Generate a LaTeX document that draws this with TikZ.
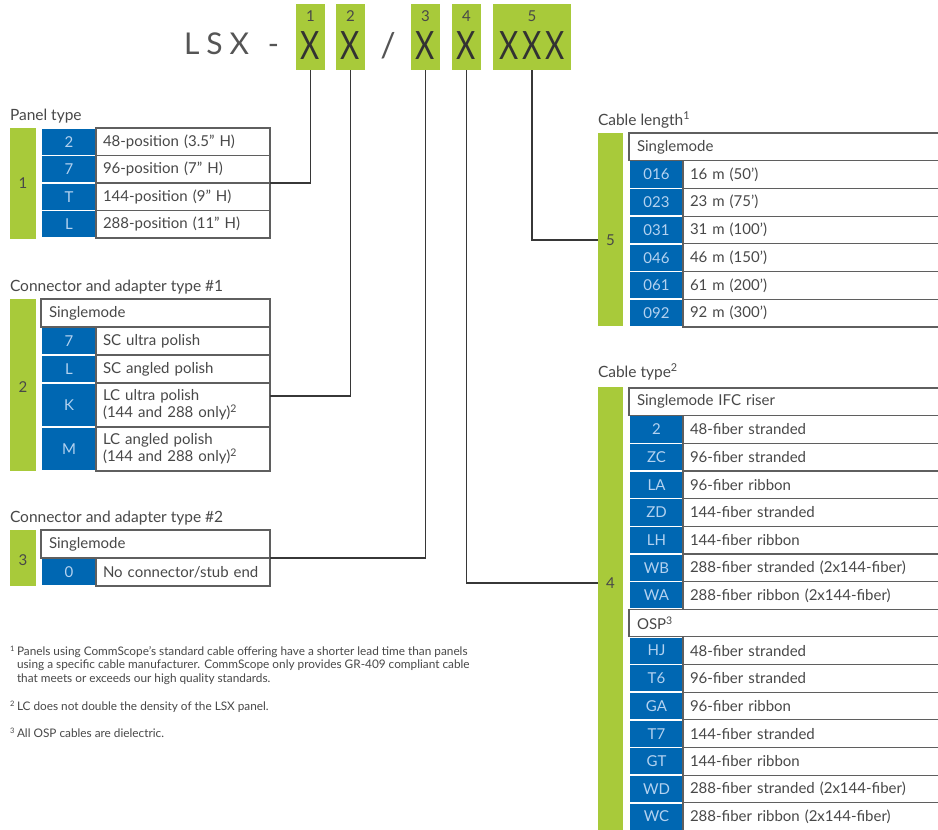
\documentclass[tikz,border=0pt]{standalone}
\usepackage{fontspec}
\setmainfont{Lato}
\usetikzlibrary{calc}
\definecolor{lsgreen}{RGB}{168,202,58}
\definecolor{lsblue}{RGB}{0,103,178}
\definecolor{lsbluetxt}{RGB}{180,210,240}
\definecolor{lstext}{RGB}{72,72,72}
\definecolor{lsborder}{RGB}{95,95,95}
\definecolor{lsline}{RGB}{55,55,55}
\definecolor{lsgray}{RGB}{85,85,85}
\definecolor{lsdark}{RGB}{50,50,50}
\newcommand\rowL[5]{%
  \node[bcell,minimum height=#3-1.5] (#1c) at (42,#2+0.75) {#4};
  \node[wcellL,minimum height=#3] (#1) at (96,#2) {#5};}
\newcommand\rowR[5]{%
  \node[bcell,minimum height=#3-1.5,minimum width=53] (#1c) at (630,#2+0.75) {#4};
  \node[wcellR,minimum height=#3] (#1) at (683,#2) {#5};}
\newcommand\narrowX{\scalebox{0.76}[1]{X}}
\begin{document}
\begin{tikzpicture}[x=1pt,y=-1pt,
  every node/.style={inner sep=0pt,outer sep=0pt},
  body/.style={font=\fontsize{15}{17}\selectfont,text=lstext},
  title/.style={font=\fontsize{15.5}{18}\selectfont,text=lstext,anchor=base west},
  gbar/.style={fill=lsgreen,anchor=north west},
  hbox/.style={fill=lsgreen,anchor=north west,minimum height=66},
  hnum/.style={font=\fontsize{15}{16}\selectfont,text=lstext},
  hx/.style={font=\fontsize{39}{39}\selectfont,text=lsdark,anchor=base},
  bcell/.style={fill=lsblue,anchor=north west,minimum width=54,text=lsbluetxt,font=\fontsize{15}{17}\selectfont},
  wcellL/.style={body,draw=lsborder,line width=1.2pt,fill=white,anchor=north west,text width=160pt,inner xsep=7pt,align=left},
  hcellL/.style={body,draw=lsborder,line width=1.2pt,fill=white,anchor=north west,text width=213pt,inner xsep=8pt,align=left},
  wcellR/.style={body,draw=lsborder,line width=1.2pt,fill=white,anchor=north west,text width=248pt,inner xsep=7pt,align=left},
  hcellR/.style={body,draw=lsborder,line width=1.2pt,fill=white,anchor=north west,text width=300pt,inner xsep=8pt,align=left},
  conn/.style={draw=lsline,line width=1.3pt},
  fn/.style={font=\fontsize{11.8}{13.5}\selectfont,text=lstext,anchor=base west},
  fnsup/.style={font=\fontsize{7.5}{8}\selectfont,text=lstext,anchor=base west}]
\useasboundingbox (0,0) rectangle (938,830);
\fill[white] (0,0) rectangle (938,830);

% ---------- header ----------
\node[font=\fontsize{30}{30}\selectfont,text=lsgray,anchor=base west] (lsx) at (184,54) {L\hspace{7pt}S\hspace{7pt}X};
\node[font=\fontsize{30}{30}\selectfont,text=lsgray,anchor=base] (dash) at (273.5,54) {-};
\node[hbox,minimum width=29] (h1) at (296,4) {};
\node[hbox,minimum width=29] (h2) at (336,4) {};
\node[font=\fontsize{34}{34}\selectfont,text=lsgray,anchor=base] (slash) at (388,57) {/};
\node[hbox,minimum width=29] (h3) at (411,4) {};
\node[hbox,minimum width=29] (h4) at (452,4) {};
\node[hbox,minimum width=78] (h5) at (493,4) {};
\node[hnum] (h1n) at (310.5,16) {1};
\node[hnum] (h2n) at (350.5,16) {2};
\node[hnum] (h3n) at (425.5,16) {3};
\node[hnum] (h4n) at (466.5,16) {4};
\node[hnum] (h5n) at (532,16) {5};
\node[hx] (h1x) at (310.5,59) {\narrowX};
\node[hx] (h2x) at (350.5,59) {\narrowX};
\node[hx] (h3x) at (425.5,59) {\narrowX};
\node[hx] (h4x) at (466.5,59) {\narrowX};
\node[hx] (h5x) at (532,59) {\narrowX\hspace{4pt}\narrowX\hspace{4pt}\narrowX};

% ---------- Panel type ----------
\node[title] (t1) at (10,120) {Panel type};
\node[gbar,minimum width=26,minimum height=110.5] (g1) at (10,128) {};
\node[body] (n1) at (23,183) {1};
\rowL{p2}{128}{27.5}{2}{48-position (3.5" H)}
\rowL{p7}{155.5}{27.5}{7}{96-position (7" H)}
\rowL{pT}{183}{27.5}{T}{144-position (9" H)}
\rowL{pL}{210.5}{27.5}{L}{288-position (11" H)}

% ---------- Connector #1 ----------
\node[title] (t2) at (10,291) {Connector and adapter type \#1};
\node[gbar,minimum width=26,minimum height=172] (g2) at (10,299) {};
\node[body] (n2) at (23,387) {2};
\node[hcellL,minimum height=28] (c1sm) at (41,299) {Singlemode};
\rowL{c7}{327}{28}{7}{SC ultra polish}
\rowL{cL}{355}{28}{L}{SC angled polish}
\rowL{cK}{383}{44}{K}{LC ultra polish\\(144 and 288 only)\textsuperscript{2}}
\rowL{cM}{427}{44}{M}{LC angled polish\\(144 and 288 only)\textsuperscript{2}}

% ---------- Connector #2 ----------
\node[title] (t3) at (10,522) {Connector and adapter type \#2};
\node[gbar,minimum width=26,minimum height=56] (g3) at (10,530) {};
\node[body] (n3) at (23,560) {3};
\node[hcellL,minimum height=28] (c2sm) at (41,530) {Singlemode};
\rowL{c0}{558}{28}{0}{No connector/stub end}

% ---------- Footnotes ----------
\node[fnsup] (fs1) at (10,651) {1};
\node[fn] (fn1a) at (17,655) {Panels using CommScope's standard cable offering have a shorter lead time than panels};
\node[fn] (fn1b) at (17,668.5) {using a specific cable manufacturer. CommScope only provides GR-409 compliant cable};
\node[fn] (fn1c) at (17,682) {that meets or exceeds our high quality standards.};
\node[fnsup] (fs2) at (10,706) {2};
\node[fn] (fn2) at (17,710) {LC does not double the density of the LSX panel.};
\node[fnsup] (fs3) at (10,733) {3};
\node[fn] (fn3) at (17,737) {All OSP cables are dielectric.};

% ---------- Cable length ----------
\node[title] (t5) at (598,125) {Cable length\textsuperscript{1}};
\node[gbar,minimum width=25,minimum height=193] (g5) at (598,133) {};
\node[body] (n5) at (610.5,240) {5};
\node[hcellR,minimum height=27.7] (lsm) at (629,133) {Singlemode};
\rowR{l016}{160.7}{27.7}{016}{16 m (50')}
\rowR{l023}{188.4}{27.7}{023}{23 m (75')}
\rowR{l031}{216.1}{27.7}{031}{31 m (100')}
\rowR{l046}{243.8}{27.7}{046}{46 m (150')}
\rowR{l061}{271.5}{27.7}{061}{61 m (200')}
\rowR{l092}{299.2}{27.7}{092}{92 m (300')}

% ---------- Cable type ----------
\node[title] (t4) at (598,377) {Cable type\textsuperscript{2}};
\node[gbar,minimum width=25,minimum height=450] (g4) at (598,387) {};
\node[body] (n4) at (610.5,583) {4};
\node[hcellR,minimum height=27.65] (ifc) at (629,388) {Singlemode IFC riser};
\rowR{k2}{415.65}{27.65}{2}{48-fiber stranded}
\rowR{kZC}{443.3}{27.65}{ZC}{96-fiber stranded}
\rowR{kLA}{470.95}{27.65}{LA}{96-fiber ribbon}
\rowR{kZD}{498.6}{27.65}{ZD}{144-fiber stranded}
\rowR{kLH}{526.25}{27.65}{LH}{144-fiber ribbon}
\rowR{kWB}{553.9}{27.65}{WB}{288-fiber stranded (2x144-fiber)}
\rowR{kWA}{581.55}{27.65}{WA}{288-fiber ribbon (2x144-fiber)}
\node[hcellR,minimum height=27.65] (osp) at (629,609.2) {OSP\textsuperscript{3}};
\rowR{kHJ}{636.85}{27.65}{HJ}{48-fiber stranded}
\rowR{kT6}{664.5}{27.65}{T6}{96-fiber stranded}
\rowR{kGA}{692.15}{27.65}{GA}{96-fiber ribbon}
\rowR{kT7}{719.8}{27.65}{T7}{144-fiber stranded}
\rowR{kGT}{747.45}{27.65}{GT}{144-fiber ribbon}
\rowR{kWD}{775.1}{27.65}{WD}{288-fiber stranded (2x144-fiber)}
\rowR{kWC}{802.75}{27.65}{WC}{288-fiber ribbon (2x144-fiber)}

% ---------- connectors ----------
\draw[conn] (h1.south) |- (p7.south east);
\draw[conn] (h2.south) |- ([yshift=-13pt]cK.north east);
\draw[conn] (h3.south) |- (c2sm.south east);
\draw[conn] (h4.south) |- (g4.west |- n4);
\draw[conn] (h5.south) |- (g5.west |- n5);
\end{tikzpicture}
\end{document}
